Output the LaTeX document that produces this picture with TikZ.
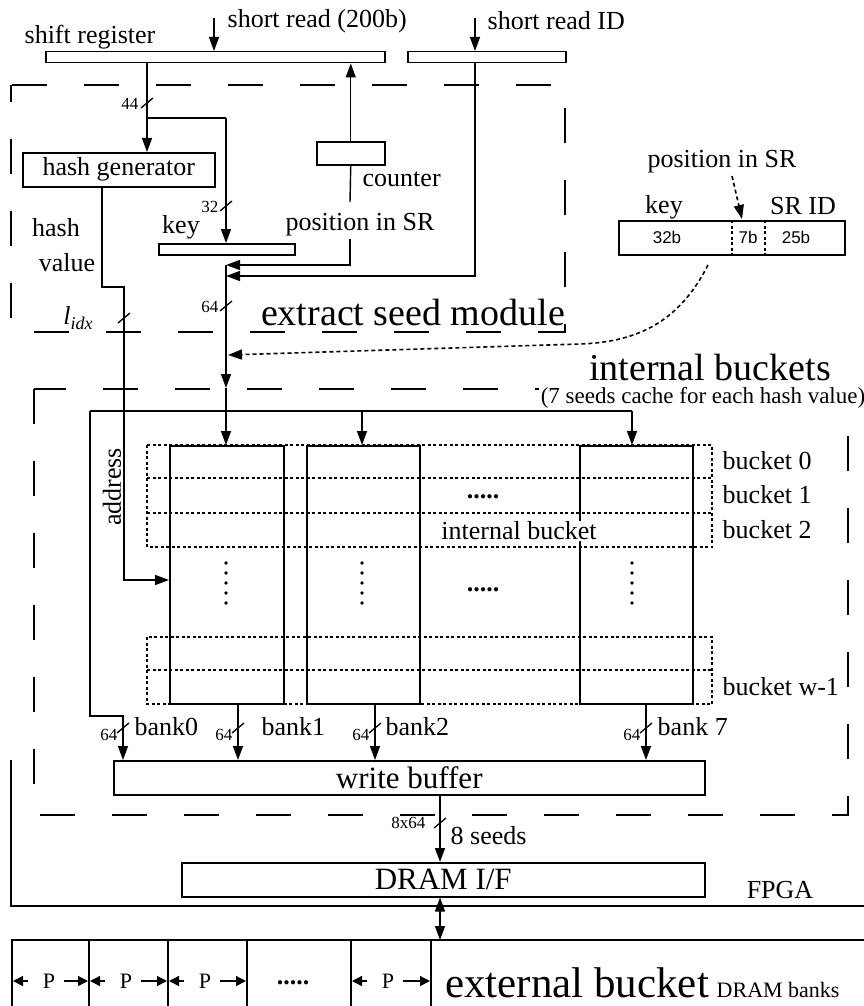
\documentclass[tikz,border=0pt]{standalone}
\usepackage{fontspec}
\setmainfont{Liberation Serif}
\newfontfamily\sansf{Liberation Sans}
\usetikzlibrary{arrows.meta}
\begin{document}
\begin{tikzpicture}[x=1pt,y=-1pt,
  line width=1.4pt,
  >={Triangle[length=14pt,width=10pt]},
  sm/.style={-{Triangle[length=10pt,width=10pt]}},
  lbl/.style={inner sep=0pt, font=\fontsize{26}{28}\selectfont},
  big/.style={inner sep=0pt, font=\fontsize{38}{40}\selectfont},
  num/.style={inner sep=0pt, font=\fontsize{17}{19}\selectfont},
  fmtnum/.style={inner sep=0pt, font=\sansf\fontsize{17}{19}\selectfont},
  bar/.style={draw, line width=1.5pt, anchor=north west, inner sep=0pt, minimum height=11pt},
  blk/.style={draw, line width=1.5pt, anchor=north west, inner sep=0pt},
  modbox/.style={line width=1.8pt, dash pattern=on 35pt off 37pt},
  dotl/.style={line width=1.4pt, dash pattern=on 3pt off 2.5pt},
  dotarrow/.style={line width=1.6pt, dash pattern=on 4pt off 3pt},
  busslash/.pic={\draw[line width=1.3pt] (-6,5) -- (6,-5);}
]
\useasboundingbox (0,0) rectangle (864,1006);

% ---------- extract seed module ----------
\draw[modbox, dash phase=18pt] (11,85) rectangle (565,332);
\node[bar, minimum width=339pt] (sr) at (45,51) {};
\node[bar, minimum width=158pt] (srid) at (407,51) {};
\node[lbl] (lsr) at (90,37) {shift register};
\node[lbl, anchor=west] (lshort) at (227,21) {short read (200b)};
\node[lbl, anchor=west] (lshortid) at (487,21) {short read ID};
\coordinate (srin) at (214,18);
\coordinate (idin) at (475,18);
\draw[->] (srin) -- (srin |- sr.north);
\draw[->] (idin) -- (idin |- srid.north);

\node[blk, minimum width=192pt, minimum height=34pt, font=\fontsize{26}{28}\selectfont] (hashgen) at (22,152) {hash generator};
\node[blk, minimum width=68pt, minimum height=23pt] (counter) at (316,141) {};
\node[lbl, anchor=west] (lcounter) at (362,179) {counter};
\node[bar, minimum width=136pt] (keybar) at (158,243) {};
\node[lbl] (lkey) at (181,227) {key};
\node[lbl] (lpos) at (360,225) {position in SR};
\node[lbl] (lhash) at (56,228) {hash};
\node[lbl] (lvalue) at (67,263) {value};

\coordinate (tap) at (147,118);
\coordinate (tapk) at (226,118);
\draw[->] (tap |- sr.south) -- (tap |- hashgen.north);
\draw (tap) -- (tapk);
\draw[->] (tapk) -- (tapk |- keybar.north);
\pic at (147,103) {busslash};
\node[num, anchor=east] (l44) at (139,104) {44};
\pic at (226,206) {busslash};
\node[num, anchor=east] (l32) at (219,207) {32};

\draw[->] (counter.north) -- (counter.north |- sr.south);
\coordinate (cdown) at (350,202);
\draw (counter.south) -- (cdown);
\coordinate (posTop) at (350,239);
\coordinate (posBend) at (350,265);
\coordinate (m1) at (226,265);
\draw[->] (posTop) -- (posBend) -- (m1);
\coordinate (idBend) at (475,276);
\coordinate (m2) at (226,276);
\draw[->] (idin |- srid.south) -- (idBend) -- (m2);

\coordinate (mIn) at (226,388);
\coordinate (junc) at (226,411);
\draw[->] (m1) -- (mIn);
\draw (mIn) -- (junc);
\pic at (226,306) {busslash};
\node[num, anchor=east] (l64m) at (219,307) {64};

\coordinate (hb1) at (102,287);
\coordinate (hb2) at (124,287);
\coordinate (hb3) at (124,580);
\pic at (124,318) {busslash};
\node[lbl] (lidx) at (78,318) {\textit{l}\raisebox{-5pt}{\fontsize{18}{18}\selectfont\textit{idx}}};
\node[big] (lmod) at (413,312) {extract seed module};

% ---------- seed format ----------
\node[blk, minimum width=226pt, minimum height=34pt] (fmt) at (618,220) {};
\draw[line width=1.3pt, dash pattern=on 3pt off 2.5pt] (732,220) -- (732,254);
\draw[line width=1.3pt, dash pattern=on 3pt off 2.5pt] (765,220) -- (765,254);
\node[fmtnum] (f32) at (667,237) {32b};
\node[fmtnum] (f7) at (748,237) {7b};
\node[fmtnum] (f25) at (796,237) {25b};
\node[lbl] (fpos) at (722,162) {position in SR};
\node[lbl] (fkey) at (664,207) {key};
\node[lbl] (fid) at (803,206) {SR ID};
\coordinate (fposA) at (732,176);
\coordinate (fposB) at (742,219);
\draw[dotarrow, -{Triangle[length=14pt,width=10pt]}] (fposA) -- (fposB);
\coordinate (cv1) at (708,265);
\coordinate (cv2) at (580,344);
\coordinate (cv3) at (228,355);
\draw[dotarrow, -{Triangle[length=14pt,width=10pt]}] (cv1) .. controls (680,320) and (640,342) .. (cv2) -- (cv3);

% ---------- internal buckets ----------
\draw[modbox] (34,389) rectangle (848,815);
\node[big] (lib) at (710,367) {internal buckets};
\node[inner sep=2pt, fill=white, font=\fontsize{23}{25}\selectfont] (lib2) at (703,398) {(7 seeds cache for each hash value)};

\node[blk, minimum width=114pt, minimum height=258pt] (colA) at (169,445) {};
\node[blk, minimum width=113pt, minimum height=258pt] (colB) at (306,445) {};
\node[blk, minimum width=113pt, minimum height=258pt] (colC) at (579,445) {};

\coordinate (dL) at (90,411);
\coordinate (dM) at (362,411);
\coordinate (dR) at (632,411);
\draw (dL) -- (dR);
\draw[->] (junc) -- (junc |- colA.north);
\draw[->] (dM) -- (dM |- colB.north);
\draw[->] (dR) -- (dR |- colC.north);

\draw[->] (hashgen.south -| hb1) -- (hb1) -- (hb2) -- (hb3) -- (hb3 -| colA.west);
\node[lbl, rotate=90] (laddr) at (112,487) {address};

\node[lbl, fill=white, inner sep=1pt] (lintb) at (519,531) {internal bucket};
\draw[dotl] (147,445) rectangle (712,547);
\draw[dotl] (147,478) -- (712,478);
\draw[dotl] (147,513) -- (712,513);
\draw[dotl] (147,637) rectangle (712,704);
\draw[dotl] (147,670) -- (712,670);
\node[lbl] (dots1) at (483,497) {\textbf{.....}};
\node[lbl] (dots2) at (483,590) {\textbf{.....}};
\foreach \xx in {226,362,632}{
  \foreach \yy in {563,573,583,593,603}{
    \fill (\xx,\yy) circle (1.9pt);
  }
}
\node[lbl, anchor=west] (b0) at (722,461) {bucket 0};
\node[lbl, anchor=west] (b1) at (722,495) {bucket 1};
\node[lbl, anchor=west] (b2) at (722,530) {bucket 2};
\node[lbl, anchor=west] (bw) at (722,687) {bucket w-1};

\node[blk, minimum width=591pt, minimum height=34pt, font=\fontsize{31}{33}\selectfont] (wbuf) at (113,760) {write buffer};

\coordinate (lp1) at (90,716);
\coordinate (lp2) at (123,716);
\draw[->] (dL) -- (lp1) -- (lp2) -- (lp2 |- wbuf.north);
\coordinate (k1) at (238,703);
\coordinate (k2) at (375,703);
\coordinate (k7) at (646,703);
\draw[->] (k1) -- (k1 |- wbuf.north);
\draw[->] (k2) -- (k2 |- wbuf.north);
\draw[->] (k7) -- (k7 |- wbuf.north);
\foreach \xx in {123,238,375,646}{ \pic at (\xx,728) {busslash}; }
\node[num, anchor=east] (n0) at (118,735) {64};
\node[num, anchor=east] (n1) at (233,735) {64};
\node[num, anchor=east] (n2) at (370,735) {64};
\node[num, anchor=east] (n7) at (641,735) {64};
\node[lbl, anchor=west] (bk0) at (134,727) {bank0};
\node[lbl, anchor=west] (bk1) at (261,727) {bank1};
\node[lbl, anchor=west] (bk2) at (385,727) {bank2};
\node[lbl, anchor=west] (bk7) at (657,727) {bank 7};

% ---------- DRAM ----------
\node[blk, minimum width=523pt, minimum height=34pt, font=\fontsize{31}{33}\selectfont] (dram) at (181,862) {DRAM I/F};
\coordinate (w8) at (440,823);
\draw[->] (w8 |- wbuf.south) -- (w8 |- dram.north);
\pic at (440,823) {busslash};
\node[num, anchor=east] (l8x) at (426,823) {8x64};
\node[lbl, anchor=west] (l8s) at (450,836) {8 seeds};
\node[lbl] (lfpga) at (780,890) {FPGA};
\draw[line width=1.6pt] (11,760) -- (11,906) -- (864,906);

\coordinate (ext) at (440,940);
\draw[{Triangle[length=14pt,width=10pt]}-{Triangle[length=14pt,width=10pt]}] (w8 |- dram.south) -- (ext);
\draw[line width=1.6pt] (864,940) -- (12,940) -- (12,1006);
\foreach \xx in {89,168,247,351,431}{ \draw[line width=1.5pt] (\xx,940) -- (\xx,1006); }
\foreach \a/\b in {12/89,89/168,168/247,351/431}{
  \node[inner sep=0pt, font=\fontsize{22}{24}\selectfont] at (\a+37,981) {P};
  \draw[sm] (\a+16,981) -- (\a+1,981);
  \draw[sm] (\a+52,981) -- (\b-1,981);
}
\node[lbl] (edots) at (293,983) {\textbf{.....}};
\node[inner sep=0pt, font=\fontsize{43}{45}\selectfont] (lext) at (577,983) {external bucket};
\node[inner sep=0pt, font=\fontsize{22}{24}\selectfont, anchor=west] (lbanks) at (716,990) {DRAM banks};
\end{tikzpicture}
\end{document}
